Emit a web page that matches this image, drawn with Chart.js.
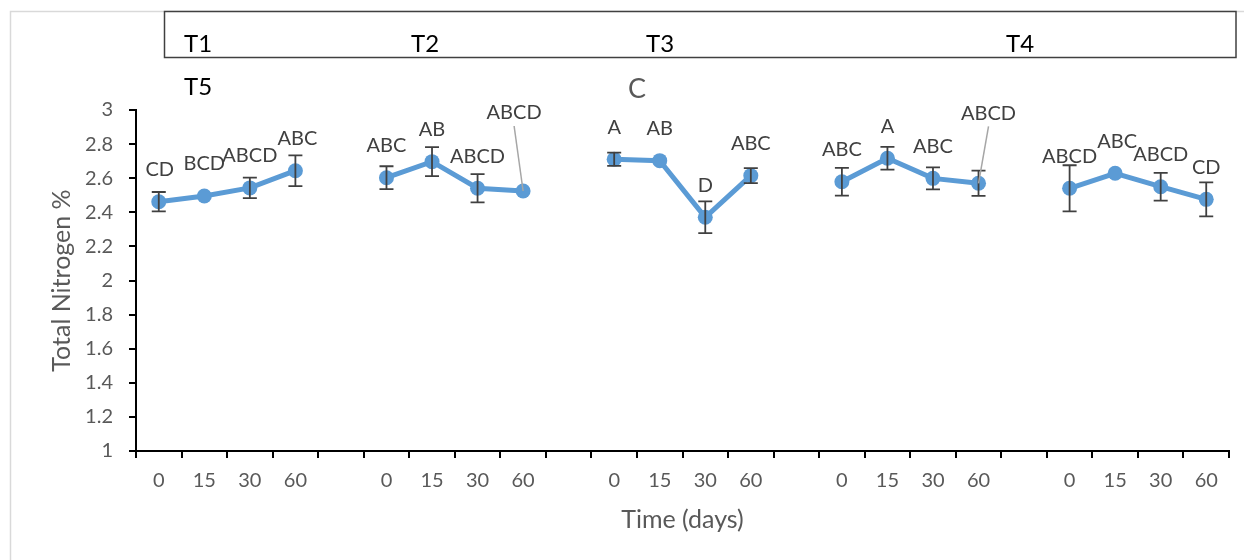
<!DOCTYPE html>
<html>
<head>
<meta charset="utf-8">
<script src="https://cdn.jsdelivr.net/npm/chart.js@4/dist/chart.umd.min.js"></script>
<style>
  html, body { margin: 0; padding: 0; background: #ffffff; }
  #wrap { width: 1244px; height: 560px; position: relative; }
  canvas { display: block; }
</style>
</head>
<body>
<div id="wrap"><canvas id="c" width="1244" height="560"></canvas></div>
<script>
// ---- data ----
const days = ["0", "15", "30", "60"];
const treatments = ["T1", "T2", "T3", "T4", "T5"];
const T1 = [2.462, 2.496, 2.543, 2.644];
const T2 = [2.603, 2.697, 2.541, 2.525];
const T3 = [2.711, 2.703, 2.371, 2.615];
const T4 = [2.579, 2.717, 2.599, 2.570];
const T5 = [2.541, 2.629, 2.550, 2.476];
const errT1 = [0.057, 0, 0.060, 0.090];
const errT2 = [0.067, 0.085, 0.083, 0];
const errT3 = [0.039, 0, 0.093, 0.044];
const errT4 = [0.081, 0.067, 0.065, 0.074];
const errT5 = [0.135, 0, 0.081, 0.100];
const letT1 = ["CD", "BCD", "ABCD", "ABC"];
const letT2 = ["ABC", "AB", "ABCD", "ABCD"];
const letT3 = ["A", "AB", "D", "ABC"];
const letT4 = ["ABC", "A", "ABC", "ABCD"];
const letT5 = ["ABCD", "ABC", "ABCD", "CD"];
const yTicks = { min: 1, max: 3, step: 0.2 };

// build category axis: 4 days per treatment, one empty slot between treatments
const groups = [T1, T2, T3, T4, T5];
const errGroups = [errT1, errT2, errT3, errT4, errT5];
const letGroups = [letT1, letT2, letT3, letT4, letT5];
const labels = [], values = [], errs = [], letters = [];
groups.forEach((g, gi) => {
  if (gi > 0) { labels.push(""); values.push(null); errs.push(null); letters.push(null); }
  g.forEach((v, i) => {
    labels.push(days[i]); values.push(v); errs.push(errGroups[gi][i]); letters.push(letGroups[gi][i]);
  });
});

// label placement (layout only): pixel offsets, leader lines
const labelStyle = {
  dy: -32,
  special: { 8: { dx: -9, dy: -78, leader: true }, 18: { dx: 10, dy: -70, leader: true } },
  dxMap: { 0: 1, 3: 2, 21: 2 }
};

const FONT = "Lato, 'Open Sans', sans-serif";

const decorPlugin = {
  id: 'decor',
  beforeDraw(chart) {
    const ctx = chart.ctx;
    ctx.save();
    ctx.fillStyle = '#ffffff';
    ctx.fillRect(0, 0, chart.width, chart.height);
    // outer light frame
    ctx.strokeStyle = '#d9d9d9';
    ctx.lineWidth = 1.5;
    ctx.beginPath();
    ctx.moveTo(10.5, 560); ctx.lineTo(10.5, 11.5); ctx.lineTo(1244, 11.5);
    ctx.stroke();
    // legend-like box
    ctx.fillStyle = '#ffffff';
    ctx.fillRect(164, 11, 1072, 47);
    ctx.strokeStyle = '#404040';
    ctx.lineWidth = 1.5;
    ctx.strokeRect(164.5, 11.5, 1071.5, 46);
    ctx.fillStyle = '#000000';
    ctx.font = "24px " + FONT;
    ctx.textAlign = 'center';
    ctx.textBaseline = 'middle';
    const tx = [198, 425, 660, 1020];
    for (let i = 0; i < 4; i++) ctx.fillText(treatments[i], tx[i], 44);
    ctx.fillText(treatments[4], 198, 87);
    ctx.fillStyle = '#595959';
    ctx.font = "27px " + FONT;
    ctx.fillText("C", 637, 89);
    ctx.restore();
  },
  afterDatasetsDraw(chart) {
    const ctx = chart.ctx;
    const xs = chart.scales.x, ys = chart.scales.y;
    ctx.save();
    // error bars
    ctx.strokeStyle = '#404040';
    ctx.lineWidth = 1.8;
    values.forEach((v, i) => {
      if (v === null || !errs[i]) return;
      const x = xs.getPixelForValue(i);
      const y1 = ys.getPixelForValue(v + errs[i]);
      const y2 = ys.getPixelForValue(v - errs[i]);
      ctx.beginPath();
      ctx.moveTo(x, y1); ctx.lineTo(x, y2);
      ctx.moveTo(x - 7, y1); ctx.lineTo(x + 7, y1);
      ctx.moveTo(x - 7, y2); ctx.lineTo(x + 7, y2);
      ctx.stroke();
    });
    // letters
    ctx.font = "20px " + FONT;
    ctx.textAlign = 'center';
    ctx.textBaseline = 'middle';
    values.forEach((v, i) => {
      if (v === null) return;
      const x = xs.getPixelForValue(i);
      const y = ys.getPixelForValue(v);
      const sp = labelStyle.special[i];
      let lx = x + (labelStyle.dxMap[i] || 0), ly = y + labelStyle.dy;
      if (sp) {
        lx = x + sp.dx; ly = y + sp.dy;
        ctx.strokeStyle = '#a6a6a6';
        ctx.lineWidth = 1.5;
        ctx.beginPath();
        ctx.moveTo(lx, ly + 13);
        ctx.lineTo(x, y);
        ctx.stroke();
      }
      ctx.fillStyle = '#404040';
      ctx.fillText(letters[i], lx, ly);
    });
    ctx.restore();
  }
};

new Chart(document.getElementById('c'), {
  type: 'line',
  data: {
    labels: labels,
    datasets: [{
      data: values,
      borderColor: '#5b9bd5',
      backgroundColor: '#5b9bd5',
      borderWidth: 5,
      pointRadius: 7.5,
      pointHoverRadius: 7.5,
      pointBorderWidth: 0,
      spanGaps: false,
      tension: 0
    }]
  },
  options: {
    responsive: false,
    animation: false,
    events: [],
    layout: { padding: { left: 10, top: 110, right: 15, bottom: 0 } },
    plugins: { legend: { display: false }, tooltip: { enabled: false } },
    scales: {
      x: {
        type: 'category',
        offset: true,
        grid: { display: true, drawOnChartArea: false, offset: true, tickLength: 7, color: '#000000', lineWidth: 2 },
        border: { display: true, color: '#000000', width: 2 },
        ticks: { color: '#595959', font: { family: FONT, size: 20 }, padding: 11, autoSkip: false, maxRotation: 0 },
        title: { display: true, text: 'Time (days)', color: '#595959', font: { family: FONT, size: 25 }, padding: { top: 0, bottom: 25 } },
        afterFit(s) { s.height = 109; }
      },
      y: {
        min: yTicks.min, max: yTicks.max,
        grid: { display: true, drawOnChartArea: false, tickLength: 7, color: '#000000', lineWidth: 2 },
        border: { display: true, color: '#000000', width: 2 },
        ticks: { stepSize: yTicks.step, color: '#595959', font: { family: FONT, size: 20 }, padding: 16,
                 callback: (v) => String(+Number(v).toFixed(1)) },
        title: { display: true, text: 'Total Nitrogen %', color: '#595959', font: { family: FONT, size: 25 }, padding: { top: 37, bottom: 0 } },
        afterFit(s) { s.width = 126; }
      }
    }
  },
  plugins: [decorPlugin]
});
</script>
</body>
</html>
